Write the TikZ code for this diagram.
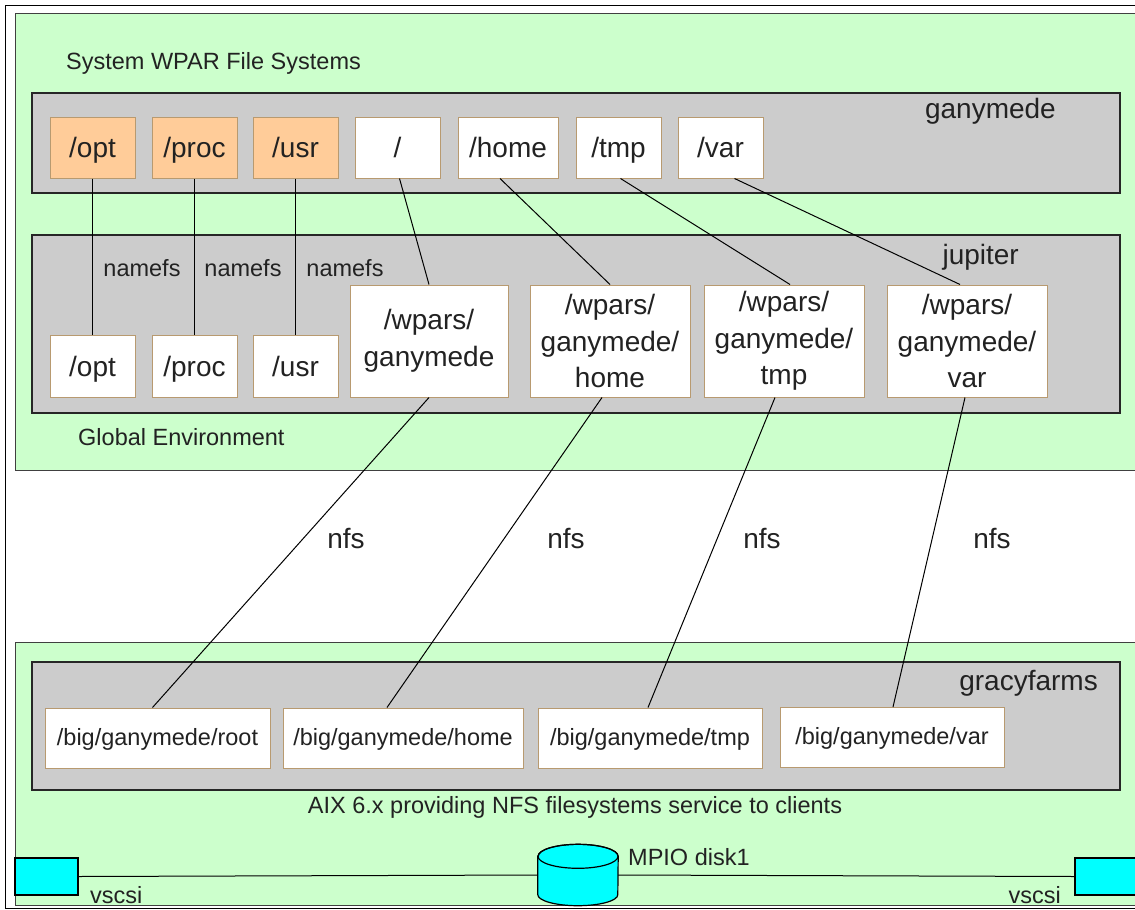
\documentclass[tikz,border=0pt]{standalone}
\usepackage{fontspec}
\setmainfont{Liberation Sans}
\definecolor{envgreen}{HTML}{CCFFCC}
\definecolor{lpargrey}{HTML}{CCCCCC}
\definecolor{fsorange}{HTML}{FFCC99}
\definecolor{fsedge}{HTML}{B89A70}
\definecolor{txt}{HTML}{222222}
\definecolor{diskcyan}{HTML}{00FFFF}
\tikzset{
  env/.style={draw=black!75, line width=1pt, fill=envgreen},
  lpar/.style={draw=black!85, line width=1.4pt, fill=lpargrey},
  fs/.style={draw=fsedge, line width=1pt, fill=white, inner sep=0pt, align=center,
    font=\fontsize{28}{36.5}\selectfont, text=txt},
  fs1/.style={fs, text height=23pt, text depth=3pt},
  fsw/.style={fs1, fill=fsorange},
  bigfs/.style={fs, font=\fontsize{23.5}{28}\selectfont, minimum height=60pt,
    text height=18pt, text depth=4pt},
  lbl/.style={inner sep=0pt, text=txt, font=\fontsize{23.5}{28}\selectfont},
  biglbl/.style={inner sep=0pt, text=txt, font=\fontsize{28}{34}\selectfont},
  link/.style={draw=black, line width=1pt},
  vhost/.style={draw=black, line width=1.2pt, fill=diskcyan, inner sep=0pt},
  diskline/.style={draw=black, line width=1.2pt},
}
\begin{document}
\begin{tikzpicture}[x=1pt,y=-1pt]
\useasboundingbox (0,0) rectangle (1135,910);
% outer frame and the two machine environments
\draw[black, line width=1pt] (5,5) rectangle (1145,908);
\path[env] (15,13) rectangle (1145,470);
\path[env] (15,642) rectangle (1145,905);
% partitions
\path[lpar] (32,93) rectangle (1120,193);
\path[lpar] (32,235) rectangle (1120,413);
\path[lpar] (32,662) rectangle (1120,790);

\node[lbl, anchor=west] (syswpar) at (66,63) {System WPAR File Systems};
\node[biglbl, anchor=east] (ganymede) at (1056,111) {ganymede};
\node[biglbl, anchor=east] (jupiter) at (1019,257) {jupiter};
\node[lbl, anchor=west] (globenv) at (78,437) {Global Environment};
\node[biglbl, anchor=east] (gracy) at (1098,683) {gracyfarms};
\node[lbl] (aix) at (575,807) {AIX 6.x providing NFS filesystems service to clients};

% ganymede file systems
\node[fsw, minimum width=85pt, minimum height=61pt] (topt)  at (92.5,147.5) {/opt};
\node[fsw, minimum width=85pt, minimum height=61pt] (tproc) at (194.5,147.5) {/proc};
\node[fsw, minimum width=85pt, minimum height=61pt] (tusr)  at (295.5,147.5) {/usr};
\node[fs1, minimum width=85pt, minimum height=61pt]  (troot) at (397.5,147.5) {/};
\node[fs1, minimum width=100pt, minimum height=61pt] (thome) at (508,147.5) {/home};
\node[fs1, minimum width=85pt, minimum height=61pt]  (ttmp)  at (618.5,147.5) {/tmp};
\node[fs1, minimum width=85pt, minimum height=61pt]  (tvar)  at (720.5,147.5) {/var};

% jupiter file systems
\node[fs1, minimum width=85pt, minimum height=62pt] (jopt)  at (92.5,366) {/opt};
\node[fs1, minimum width=85pt, minimum height=62pt] (jproc) at (194.5,366) {/proc};
\node[fs1, minimum width=85pt, minimum height=62pt] (jusr)  at (295.5,366) {/usr};
\node[fs, minimum width=158pt, minimum height=112pt] (jroot) at (429,341) {/wpars/\\ganymede};
\node[fs, minimum width=160pt, minimum height=112pt] (jhome) at (610,341) {/wpars/\\ganymede/\\home};
\node[fs, minimum width=160pt, minimum height=112pt] (jtmp)  at (784,341) {/wpars/\\ganymede/\\tmp};
\node[fs, minimum width=160pt, minimum height=112pt] (jvar)  at (967,341) {/wpars/\\ganymede/\\var};

% gracyfarms exports
\node[bigfs, minimum width=225pt] (groot) at (157.5,738) {/big/ganymede/root};
\node[bigfs, minimum width=240pt] (ghome) at (403,738) {/big/ganymede/home};
\node[bigfs, minimum width=224pt] (gtmp)  at (650,738) {/big/ganymede/tmp};
\node[bigfs, minimum width=224pt] (gvar)  at (892,737.5) {/big/ganymede/var};

% namefs mounts
\draw[link] (topt) -- (jopt);
\draw[link] (tproc) -- (jproc);
\draw[link] (tusr) -- (jusr);
\node[lbl] (nf1) at (142,268) {namefs};
\node[lbl] (nf2) at (243,268) {namefs};
\node[lbl] (nf3) at (345,268) {namefs};

% wpar directories in the global environment
\draw[link] ([xshift=2pt]troot.south) -- (jroot.north);
\draw[link] ([xshift=-8pt]thome.south) -- (jhome.north);
\draw[link] ([xshift=2pt]ttmp.south) -- ([xshift=6pt]jtmp.north);
\draw[link] ([xshift=14pt]tvar.south) -- ([xshift=-7pt]jvar.north);

% nfs mounts
\draw[link] (jroot.south) -- ([xshift=-5pt]groot.north);
\draw[link] ([xshift=-8pt]jhome.south) -- ([xshift=-16pt]ghome.north);
\draw[link] ([xshift=-9pt]jtmp.south) -- ([xshift=-2pt]gtmp.north);
\draw[link] ([xshift=-2pt]jvar.south) -- ([xshift=1pt]gvar.north);
\node[biglbl] (nfs1) at (346,538) {nfs};
\node[biglbl] (nfs2) at (566,538) {nfs};
\node[biglbl] (nfs3) at (762,538) {nfs};
\node[biglbl] (nfs4) at (992,538) {nfs};

% shared disk and virtual SCSI adapters
\node[vhost, minimum width=63pt, minimum height=37pt] (lvscsi) at (46.5,876.5) {};
\node[vhost, minimum width=62pt, minimum height=37pt] (rvscsi) at (1106,876.5) {};
\node[inner sep=0pt, minimum width=80pt, minimum height=61pt] (disk) at (578,875) {};
\draw[link] (lvscsi.east) -- (disk.west);
\draw[link] (disk.east) -- (rvscsi.west);
% cylinder body, then its top face
\path[diskline, fill=diskcyan] ([yshift=-12pt]disk.north west) -- ([yshift=11pt]disk.south west)
  arc[start angle=180, end angle=0, x radius=40, y radius=11]
  -- ([yshift=-12pt]disk.north east)
  arc[start angle=0, end angle=-180, x radius=40, y radius=12] -- cycle;
\draw[diskline] ([yshift=-12pt]disk.north) ellipse[x radius=40, y radius=12];
\node[lbl, anchor=west] (mpio) at (628,857) {MPIO disk1};
\node[lbl, anchor=west] (vs1) at (90,895) {vscsi};
\node[lbl, anchor=east] (vs2) at (1061,895) {vscsi};
\end{tikzpicture}
\end{document}
